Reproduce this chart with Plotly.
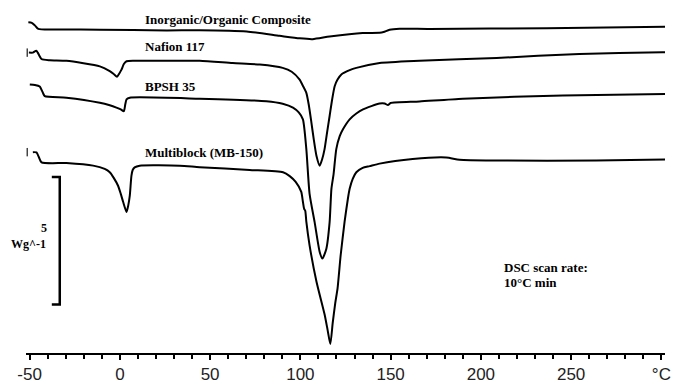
import plotly.graph_objects as go

# Temperature (°C) and heat flow (W/g, offset curves)
comp_T = [-50.7, -48.8, -47.1, -45.2, -33.3, -11.1, 26.0, 44.2, 70.3, 88.5, 99.6, 106.8,
          116.2, 134.5, 143.9, 146.1, 149.4, 155.0, 171.6, 236.4, 304.5]
comp_W = [12.99, 12.97, 12.87, 12.73, 12.71, 12.70, 12.67, 12.68, 12.63, 12.46, 12.36, 12.33,
          12.43, 12.57, 12.58, 12.61, 12.70, 12.74, 12.73, 12.76, 12.82]

naf_T = [-50.4, -48.2, -46.3, -45.5, -43.4, -38.8, -29.6, -11.1, -5.6, -3.4, -1.6, -0.3, 0.9,
         2.2, 3.7, 8.2, 25.8, 44.2, 62.5, 77.5, 90.2, 95.2, 99.6, 101.3, 103.3, 104.6, 106.1,
         107.4, 108.9, 110.7, 112.1, 113.4, 114.8, 116.2, 117.6, 119.0, 120.6, 122.7, 127.3,
         131.0, 143.9, 166.0, 208.7, 254.6, 300.6, 303.4]
naf_W = [11.80, 11.80, 11.875, 11.80, 11.55, 11.50, 11.48, 11.26, 11.07, 10.96, 10.85, 10.98,
         11.13, 11.35, 11.46, 11.48, 11.48, 11.48, 11.39, 11.33, 11.20, 11.05, 10.74, 10.51,
         10.22, 9.77, 9.06, 8.40, 7.75, 7.36, 7.62, 8.01, 8.67, 9.31, 9.96, 10.48, 10.74, 10.94,
         11.11, 11.20, 11.39, 11.48, 11.59, 11.75, 11.81, 11.82]

bpsh_T = [-49.9, -47.1, -44.4, -42.7, -41.6, -29.6, -11.1, -5.6, -1.9, 0.5, 2.2, 3.0, 3.7, 5.5,
          44.2, 81.2, 90.2, 95.9, 99.1, 101.4, 103.3, 105.1, 107.9, 110.7, 112.2, 114.4, 116.2,
          117.2, 118.4, 119.9, 121.8, 123.6, 127.3, 131.0, 134.7, 143.9, 146.7, 148.5, 150.0,
          166.0, 190.0, 245.4, 304.5]
bpsh_W = [10.55, 10.53, 10.47, 10.23, 10.09, 10.03, 9.83, 9.73, 9.64, 9.57, 9.50, 9.77, 9.96,
          10.03, 9.99, 9.89, 9.79, 9.64, 9.45, 9.18, 8.01, 6.25, 5.14, 3.97, 3.71, 4.10, 5.14,
          6.45, 7.03, 8.01, 8.52, 8.79, 9.18, 9.41, 9.57, 9.80, 9.80, 9.74, 9.82, 9.88, 9.99,
          10.12, 10.18]

mb_T = [-48.2, -46.2, -44.9, -43.4, -29.6, -14.8, -8.4, -5.6, -3.4, -1.0, 0.5, 1.8, 3.7, 4.6,
        5.5, 6.4, 7.1, 8.2, 11.0, 33.2, 44.2, 71.9, 90.4, 94.1, 97.4, 100.5, 101.4, 102.1,
        102.7, 103.3, 105.1, 108.9, 113.4, 115.1, 116.6, 117.9, 119.3, 120.6, 122.3, 124.5,
        126.3, 127.3, 129.0, 131.0, 134.5, 138.4, 143.9, 162.2, 180.8, 188.2, 208.5, 263.9, 303.4]
mb_W = [7.89, 7.88, 7.70, 7.49, 7.46, 7.36, 7.23, 7.10, 6.88, 6.57, 6.25, 5.94, 5.54, 5.78,
        6.18, 6.96, 7.19, 7.29, 7.36, 7.36, 7.30, 7.19, 7.10, 6.95, 6.72, 6.33, 5.94, 5.66,
        5.59, 5.16, 4.23, 2.81, 1.52, 0.90, 0.35, 1.17, 1.95, 2.54, 3.83, 5.16, 6.05, 6.45,
        6.84, 7.10, 7.27, 7.34, 7.44, 7.62, 7.68, 7.59, 7.56, 7.56, 7.60]

# run-range brackets at curve ends
brk_T = [-51.3, 302.5, -51.3, 302.5]
brk_W = [11.80, 11.82, 7.89, 7.60]

curve_names = ["Inorganic/Organic Composite", "Nafion 117", "BPSH 35", "Multiblock (MB-150)"]
label_T = [13.0, 12.7, 12.7, 12.7]
label_W = [13.09, 12.04, 10.46, 7.88]

tick_vals = [-50, 0, 50, 100, 150, 200, 250, 300]
tick_text = ["-50", "0", "50", "100", "150", "200", "250", "°C"]

# scale bar: 5 W/g
bar_T = -33.3
bar_T_tick = -37.7
bar_W0 = 1.91
bar_span = 5

fig = go.Figure()
for xs, ys in [(comp_T, comp_W), (naf_T, naf_W), (bpsh_T, bpsh_W), (mb_T, mb_W)]:
    fig.add_trace(go.Scatter(x=xs, y=ys, mode="lines", line=dict(color="black", width=2),
                             line_shape="spline", line_smoothing=0.6,
                             showlegend=False, hoverinfo="skip"))

fig.add_trace(go.Scatter(x=brk_T, y=brk_W, mode="markers", cliponaxis=False,
                         marker=dict(symbol="line-ns-open", size=6, color="#444",
                                     line=dict(color="#444", width=1.5)),
                         showlegend=False, hoverinfo="skip"))

# scale bar
fig.add_trace(go.Scatter(x=[bar_T_tick, bar_T, bar_T, bar_T_tick],
                         y=[bar_W0 + bar_span, bar_W0 + bar_span, bar_W0, bar_W0],
                         mode="lines", line=dict(color="black", width=2.5),
                         showlegend=False, hoverinfo="skip"))

serif = "Liberation Serif"
for name, tx, wy in zip(curve_names, label_T, label_W):
    fig.add_annotation(x=tx, y=wy, xref="x", yref="y", text="<b>" + name + "</b>",
                       showarrow=False, xanchor="left", yanchor="middle",
                       font=dict(family=serif, size=13, color="black"))

fig.add_annotation(x=-39.0, y=4.92, xref="x", yref="y", text="<b>5</b>", showarrow=False,
                   xanchor="right", yanchor="middle",
                   font=dict(family=serif, size=12, color="black"))
fig.add_annotation(x=-39.9, y=4.30, xref="x", yref="y", text="<b>Wg^-1</b>", showarrow=False,
                   xanchor="right", yanchor="middle",
                   font=dict(family=serif, size=12, color="black"))
fig.add_annotation(x=211.5, y=3.36, xref="x", yref="y", text="<b>DSC scan rate:</b>",
                   showarrow=False, xanchor="left", yanchor="middle",
                   font=dict(family=serif, size=13, color="black"))
fig.add_annotation(x=211.5, y=2.77, xref="x", yref="y", text="<b>10°C min</b>",
                   showarrow=False, xanchor="left", yanchor="middle",
                   font=dict(family=serif, size=13, color="black"))

fig.update_layout(
    width=673, height=384,
    margin=dict(l=26, r=8, t=0, b=29),
    paper_bgcolor="white", plot_bgcolor="white",
    xaxis=dict(range=[-52, 302], showgrid=False, zeroline=False, showline=True,
               linecolor="black", linewidth=2, ticks="outside", ticklen=5, tickwidth=2,
               tickcolor="black", tickvals=tick_vals, ticktext=tick_text,
               tickfont=dict(family="Liberation Sans", size=17, color="#222"),
               minor=dict(dtick=10, tick0=0, ticks="outside", ticklen=4, tickwidth=2,
                          tickcolor="black")),
    yaxis=dict(range=[0, 13.867], visible=False, showgrid=False, zeroline=False),
)

fig.write_html("out.html")
